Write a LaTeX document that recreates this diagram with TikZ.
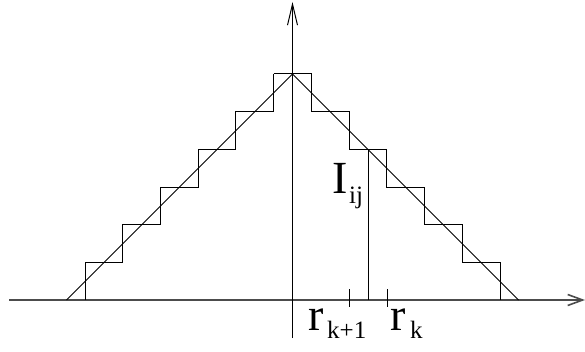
\documentclass[tikz,border=0pt]{standalone}
\usepackage{fontspec}
\setmainfont{Liberation Serif}
\usepackage{tikz}
\usetikzlibrary{arrows.meta}
\newcommand{\bigtxt}{\fontsize{46}{46}\selectfont}
\newcommand{\subtxt}{\fontsize{25}{25}\selectfont}

\begin{document}
\begin{tikzpicture}[x=1pt,y=-1pt,
    axis/.style={line width=1.6pt,black!70},
    stair/.style={line width=1pt},
    lbl/.style={anchor=base west,inner sep=0pt,font=\bigtxt},
    sublbl/.style={anchor=base west,inner sep=0pt,font=\subtxt}]
    \useasboundingbox (0,0) rectangle (585,352);

    % Axes
    \coordinate (xl) at (9,300);
    \coordinate (xr) at (585,300);
    \coordinate (yb) at (292.5,338);
    \coordinate (yt) at (292.5,2);
    \draw[axis,-{Straight Barb[length=15pt,width=11pt]}] (xl) -- (xr);
    \draw[stair,-{Straight Barb[length=21pt,width=10pt]}] (yb) -- (yt);

    % Staircase
    \coordinate (peak) at (292.5,74);
    \draw[stair] (273.5,74) -- (311.5,74)
      \foreach \k in {1,...,5} { -- ++(0,37.7) -- ++(37.7,0) } -- ++(0,37.7);
    \draw[stair] (273.5,74)
      \foreach \k in {1,...,5} { -- ++(0,37.7) -- ++(-37.7,0) } -- ++(0,37.7);

    % Cone
    \coordinate (cl) at (66.5,300);
    \coordinate (cr) at (518.5,300);
    \draw[stair] (cl) -- (peak) -- (cr);

    % Intensity line
    \coordinate (itop) at (368.5,150);
    \coordinate (ibot) at (368.5,300);
    \draw[stair] (itop) -- (ibot);
    \node[lbl] (I) at (332,194) {I};
    \node[sublbl] (Isub) at (349,204) {ij};

    % Radii
    \foreach \name/\xx in {rk1/349.5,rk/387.5}
      \draw[stair] (\xx,289) -- (\xx,307);
    \node[lbl] (rk1) at (308,330) {r};
    \node[sublbl] (rk1sub) at (327,338) {k+1};
    \node[lbl] (rk) at (390,330) {r};
    \node[sublbl] (rksub) at (410,338) {k};
\end{tikzpicture}
\end{document}
